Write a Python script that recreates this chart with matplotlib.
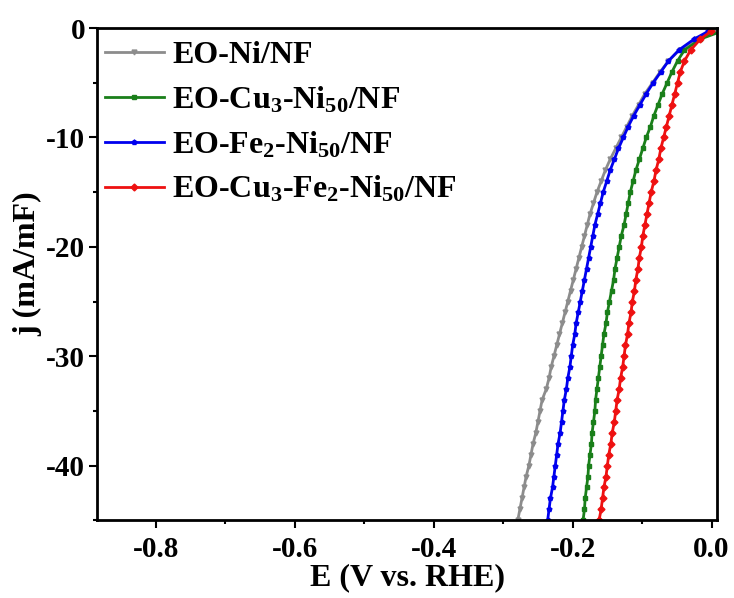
import matplotlib
matplotlib.use("Agg")
import matplotlib.pyplot as plt
from matplotlib.ticker import MultipleLocator, FuncFormatter

plt.rcParams['font.family'] = ['Liberation Serif', 'DejaVu Serif']
plt.rcParams['font.weight'] = 'bold'
plt.rcParams['axes.unicode_minus'] = False
plt.rcParams['mathtext.fontset'] = 'custom'
plt.rcParams['mathtext.rm'] = 'Liberation Serif:bold'
plt.rcParams['mathtext.it'] = 'Liberation Serif:bold'
plt.rcParams['mathtext.bf'] = 'Liberation Serif:bold'
plt.rcParams['mathtext.default'] = 'rm'

# current density levels (mA/mF)
j_levels = [-0.3, -1, -2, -3, -4, -5, -6, -7, -8, -9, -10, -11, -12, -13, -14, -15,
            -16, -17, -18, -19, -20, -21, -22, -23, -24, -25, -26, -27, -28, -29, -30,
            -31, -32, -33, -34, -35, -36, -37, -38, -39, -40, -41, -42, -43, -44, -45]

E_ni = [0.004, -0.022, -0.046, -0.062, -0.074, -0.085, -0.096, -0.105, -0.114, -0.122,
        -0.130, -0.138, -0.146, -0.153, -0.159, -0.165, -0.170, -0.175, -0.179, -0.183,
        -0.187, -0.191, -0.195, -0.199, -0.203, -0.207, -0.211, -0.215, -0.219, -0.223,
        -0.227, -0.231, -0.234, -0.238, -0.244, -0.247, -0.250, -0.253, -0.257, -0.260,
        -0.263, -0.267, -0.270, -0.273, -0.276, -0.279]

E_cu_ni = [0.014, -0.016, -0.039, -0.049, -0.057, -0.064, -0.071, -0.077, -0.083, -0.088,
           -0.094, -0.099, -0.104, -0.109, -0.113, -0.117, -0.120, -0.123, -0.126, -0.130,
           -0.133, -0.136, -0.139, -0.141, -0.144, -0.147, -0.150, -0.152, -0.155, -0.157,
           -0.159, -0.161, -0.163, -0.165, -0.167, -0.168, -0.170, -0.172, -0.173, -0.175,
           -0.177, -0.178, -0.180, -0.182, -0.183, -0.185]

E_fe_ni = [-0.005, -0.025, -0.047, -0.062, -0.073, -0.084, -0.094, -0.103, -0.112, -0.120,
           -0.127, -0.134, -0.140, -0.146, -0.151, -0.156, -0.160, -0.164, -0.168, -0.171,
           -0.174, -0.177, -0.180, -0.183, -0.186, -0.189, -0.192, -0.195, -0.197, -0.200,
           -0.202, -0.204, -0.207, -0.209, -0.212, -0.214, -0.216, -0.218, -0.221, -0.223,
           -0.225, -0.227, -0.229, -0.232, -0.234, -0.236]

E_cu_fe_ni = [-0.001, -0.016, -0.030, -0.039, -0.045, -0.049, -0.053, -0.057, -0.061, -0.065,
              -0.069, -0.073, -0.076, -0.080, -0.083, -0.087, -0.090, -0.093, -0.096, -0.099,
              -0.101, -0.104, -0.106, -0.109, -0.111, -0.114, -0.116, -0.119, -0.121, -0.124,
              -0.126, -0.128, -0.131, -0.133, -0.136, -0.138, -0.140, -0.143, -0.145, -0.148,
              -0.150, -0.152, -0.155, -0.157, -0.159, -0.162]

labels = ['EO-Ni/NF', 'EO-Cu$_3$-Ni$_{50}$/NF', 'EO-Fe$_2$-Ni$_{50}$/NF',
          'EO-Cu$_3$-Fe$_2$-Ni$_{50}$/NF']
colors = ['#8c8c8c', '#1a7f1a', '#0000ee', '#ee1111']
markers = ['v', 's', 'p', 'D']
series = [E_ni, E_cu_ni, E_fe_ni, E_cu_fe_ni]

fig = plt.figure(figsize=(7.34, 5.98), dpi=100)
ax = fig.add_axes([0.132, 0.130, 0.845, 0.823])

for E, lab, c, m in zip(series, labels, colors, markers):
    ax.plot(E, j_levels, color=c, lw=2, marker=m, ms=3.5, label=lab)

ax.set_xlim(-0.885, 0.008)
ax.set_ylim(-45, 0)
ax.xaxis.set_major_locator(MultipleLocator(0.2))
ax.xaxis.set_minor_locator(MultipleLocator(0.1))
ax.yaxis.set_major_locator(MultipleLocator(10))
ax.yaxis.set_minor_locator(MultipleLocator(5))
ax.tick_params(which='major', direction='out', length=5.5, width=1.5, labelsize=21)
ax.tick_params(which='minor', direction='out', length=3, width=1.5)
ax.tick_params(axis='x', which='major', pad=6)
ax.tick_params(axis='y', which='major', pad=3)
ax.xaxis.set_major_formatter(FuncFormatter(lambda v, p: f"{v:.1f}".replace('-0.0', '0.0')))
ax.yaxis.set_major_formatter(FuncFormatter(lambda v, p: "0" if abs(v) < 1e-9 else f"{v:.0f}"))
for s in ax.spines.values():
    s.set_linewidth(2)

ax.set_xlabel('E (V vs. RHE)', fontsize=23, fontweight='bold', labelpad=0)
ax.set_ylabel('j (mA/mF)', fontsize=23, fontweight='bold')
ax.yaxis.set_label_coords(-0.0886, 0.522)

leg = ax.legend(loc='upper left', bbox_to_anchor=(0.0, 0.99), frameon=False, fontsize=23,
                handlelength=1.85, borderaxespad=0.15, borderpad=0.1, labelspacing=0.45,
                handletextpad=0.25)
for h in leg.get_lines():
    h.set_linewidth(2)

fig.savefig('out.png', dpi=100)
